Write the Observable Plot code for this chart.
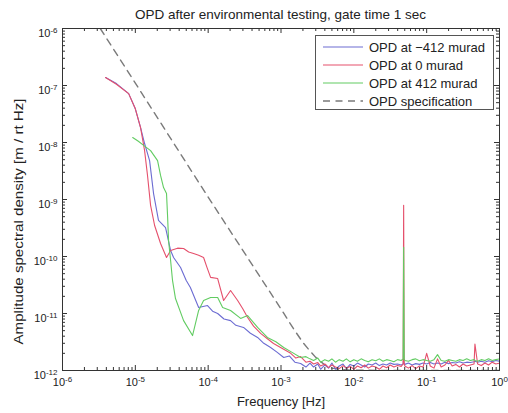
<!DOCTYPE html>
<html><head><meta charset="utf-8">
<script src="https://cdn.jsdelivr.net/npm/d3@7"></script>
<script src="https://cdn.jsdelivr.net/npm/@observablehq/plot@0.6"></script>
<style>
body{margin:0;background:#fff;font-family:"Liberation Sans",Arial,sans-serif;}
#wrap{position:relative;width:508px;height:413px;overflow:hidden;}
#title{height:24px;box-sizing:border-box;padding:6px 9px 0 62px;line-height:18px;font-size:13.5px;text-align:center;color:#222;}
#legend{position:absolute;left:315px;top:35px;width:179px;height:75px;box-sizing:border-box;border:1px solid #555;background:#fff;}
</style></head><body>
<div id="wrap"><div id="title">OPD after environmental testing, gate time 1 sec</div><div id="chart"></div><div id="legend"></div></div>
<script>
const titleText = "OPD after environmental testing, gate time 1 sec";
const xLabel = "Frequency [Hz]";
const yLabel = "Amplitude spectral density [m / rt Hz]";
const seriesNames = ["OPD at \u2212412 murad", "OPD at 0 murad", "OPD at 412 murad"];
const seriesColors = ["#6c6cd2", "#e5506c", "#62cc62"];
const specName = "OPD specification";
const xTicks = [1e-6, 1e-5, 1e-4, 1e-3, 1e-2, 1e-1, 1];
const yTicks = [1e-12, 1e-11, 1e-10, 1e-9, 1e-8, 1e-7, 1e-6];

// low-frequency part of each series (Hz, m/rtHz)
const blueLowFreq = [3.9e-6,5.5e-6,8.1e-6,1.0e-5,1.18e-5,1.34e-5,1.57e-5,1.78e-5,2.08e-5,2.6e-5,3.05e-5,3.35e-5,4.18e-5,5.0e-5,5.7e-5,7.4e-5,9.8e-5,1.15e-4,1.35e-4,1.65e-4,2.03e-4,2.4e-4,3.06e-4,3.8e-4,4.77e-4,5.8e-4,7.2e-4,8.8e-4,1.09e-3,1.3e-3,1.55e-3,1.86e-3,2.2e-3];
const blueLowVal = [1.38e-7,1.08e-7,7.2e-8,3.9e-8,1.83e-8,9.6e-9,4.8e-9,1.27e-9,4.3e-10,3.2e-10,1.27e-10,9.6e-11,6.4e-11,3.8e-11,2.86e-11,1.27e-11,1.38e-11,1.1e-11,1.0e-11,8.0e-12,7.5e-12,6.2e-12,5.7e-12,4.5e-12,3.8e-12,3.0e-12,2.53e-12,2.1e-12,1.69e-12,1.8e-12,1.4e-12,1.33e-12,1.15e-12];
const redLowFreq = [3.9e-6,5.5e-6,8.1e-6,1.0e-5,1.18e-5,1.34e-5,1.47e-5,1.62e-5,1.84e-5,2.22e-5,2.68e-5,3.05e-5,3.8e-5,4.6e-5,5.4e-5,6.3e-5,7.4e-5,8.65e-5,9.6e-5,1.08e-4,1.35e-4,1.63e-4,2.03e-4,2.54e-4,3.0e-4,3.48e-4,4.2e-4,5.25e-4,6.5e-4,7.9e-4,1.0e-3,1.36e-3,1.6e-3,1.86e-3,2.2e-3];
const redLowVal = [1.38e-7,1.05e-7,7.2e-8,3.9e-8,1.83e-8,7.2e-9,2.64e-9,7.9e-10,3.5e-10,1.69e-10,9.6e-11,1.27e-10,1.4e-10,1.38e-10,1.2e-10,1.13e-10,1.05e-10,9.6e-11,6.5e-11,4.3e-11,4.1e-11,1.69e-11,2.53e-11,1.69e-11,1.2e-11,8.5e-12,6.0e-12,4.47e-12,3.6e-12,2.98e-12,2.5e-12,2.0e-12,1.65e-12,1.76e-12,1.4e-12];
const greenLowFreq = [9.2e-6,1.1e-5,1.3e-5,1.62e-5,2.02e-5,2.22e-5,2.44e-5,2.68e-5,2.77e-5,2.86e-5,3.05e-5,3.24e-5,3.56e-5,4.6e-5,6.1e-5,7.4e-5,8.65e-5,1.08e-4,1.35e-4,1.58e-4,2.03e-4,2.79e-4,3.48e-4,4.77e-4,6.5e-4,8.5e-4,1.09e-3,1.4e-3,1.86e-3,2.2e-3];
const greenLowVal = [1.22e-8,1.05e-8,8.9e-9,7.2e-9,4.8e-9,2.64e-9,1.62e-9,1.27e-9,5.2e-10,1.9e-10,8.5e-11,3.8e-11,1.83e-11,7.5e-12,4.1e-12,1.13e-11,1.69e-11,1.91e-11,1.91e-11,1.27e-11,1.13e-11,8.2e-12,9.2e-12,5.7e-12,3.8e-12,3.2e-12,2.53e-12,2.1e-12,1.69e-12,1.75e-12];

// noise floor part (Hz) and values in units of 1e-12 m/rtHz
const floorFreq = [2.5e-3,2.8e-3,3.2e-3,3.5e-3,4.0e-3,4.5e-3,5.0e-3,5.6e-3,6.3e-3,7.1e-3,7.9e-3,8.9e-3,0.010,0.0112,0.0126,0.0141,0.0158,0.0178,0.020,0.0224,0.0251,0.0282,0.0316,0.0355,0.0398,0.0447,0.0475,0.0483,0.0491,0.0501,0.0562,0.0631,0.0708,0.0794,0.0891,0.100,0.112,0.126,0.141,0.158,0.178,0.200,0.224,0.251,0.282,0.316,0.355,0.398,0.447,0.460,0.501,0.562,0.631,0.708,0.794,0.891,1.0];
const blueFloor = [1.35,1.15,1.3,1.05,1.25,1.1,1.35,1.05,1.2,1.3,1.08,1.28,1.2,1.35,1.25,1.15,1.3,1.25,1.35,1.22,1.3,1.25,1.35,1.28,1.3,1.25,1.3,1.6,1.3,1.28,1.35,1.25,1.32,1.28,1.35,1.3,1.38,1.3,1.35,1.3,1.4,1.32,1.38,1.35,1.42,1.35,1.4,1.38,1.42,1.45,1.4,1.45,1.4,1.48,1.42,1.5,1.45];
const redFloor = [1.45,1.3,1.38,1.2,1.3,1.12,1.25,1.15,1.08,1.22,1.1,1.18,1.05,1.2,1.12,1.25,1.1,1.2,1.15,1.05,1.2,1.12,1.25,1.15,1.22,1.18,1.3,790,1.35,1.2,1.1,1.22,1.08,1.2,1.15,2.0,1.2,1.1,1.6,1.15,1.25,1.5,1.2,1.28,1.15,1.3,1.2,1.25,1.3,2.9,1.3,1.22,1.35,1.25,1.4,1.3,1.35];
const greenFloor = [1.6,1.5,1.65,1.4,1.55,1.45,1.6,1.4,1.55,1.45,1.6,1.42,1.55,1.45,1.6,1.5,1.42,1.55,1.48,1.6,1.45,1.55,1.5,1.42,1.55,1.5,1.6,145,1.6,1.5,1.45,1.55,1.6,1.48,1.55,1.5,1.45,1.55,1.9,1.5,1.45,1.55,1.5,1.45,1.55,1.5,1.6,1.5,1.55,1.5,1.45,1.55,1.5,1.6,1.5,1.55,1.6];

const specFreq = [3.3e-6,1e-5,1e-4,1e-3,1.5e-3,2e-3,2.5e-3,3e-3,4e-3,5e-3,7e-3,1e-2,1e-1,1];
const specVal = [1.0e-6,1.1e-7,1.1e-9,1.2e-11,5.3e-12,3.1e-12,2.2e-12,1.7e-12,1.25e-12,1.1e-12,1.03e-12,1.01e-12,1.0e-12,1.0e-12];

function build(name, lf, lv, fl) {
  const rows = lf.map((f, i) => ({series: name, f, v: lv[i]}));
  floorFreq.forEach((f, i) => rows.push({series: name, f, v: fl[i] * 1e-12}));
  return rows;
}
const blueData = build(seriesNames[0], blueLowFreq, blueLowVal, blueFloor);
const redData = build(seriesNames[1], redLowFreq, redLowVal, redFloor);
const greenData = build(seriesNames[2], greenLowFreq, greenLowVal, greenFloor);
const specData = specFreq.map((f, i) => ({f, v: specVal[i]}));

const W = 508, H = 389, mL = 62, mR = 9, mT = 4, mB = 43;
const iW = W - mL - mR, iH = H - mT - mB;
const xMinor = [], yMinor = [];
for (let e = -6; e < 0; e++) for (let k = 2; k <= 9; k++) xMinor.push(k * Math.pow(10, e));
for (let e = -12; e < -6; e++) for (let k = 2; k <= 9; k++) yMinor.push(k * Math.pow(10, e));
const expFmt = d => String(Math.round(Math.log10(d)));
const axisColor = "#333";

const plot = Plot.plot({
  width: W, height: H,
  marginLeft: mL, marginRight: mR, marginTop: mT, marginBottom: mB,
  style: {fontFamily: "'Liberation Sans', Arial, sans-serif", fontSize: "11px", color: "#222", background: "#fff"},
  x: {type: "log", domain: [1e-6, 1]},
  y: {type: "log", domain: [1e-12, 1e-6]},
  marks: [
    Plot.line(specData, {x: "f", y: "v", stroke: "#7a7a7a", strokeWidth: 1.4, strokeDasharray: "7,5.5", clip: true}),
    Plot.line(blueData, {x: "f", y: "v", stroke: seriesColors[0], strokeWidth: 1.1, clip: true}),
    Plot.line(redData, {x: "f", y: "v", stroke: seriesColors[1], strokeWidth: 1.1, clip: true}),
    Plot.line(greenData, {x: "f", y: "v", stroke: seriesColors[2], strokeWidth: 1.1, clip: true}),
    Plot.tickX(xTicks, {x: d => d, stroke: axisColor, insetTop: iH - 5}),
    Plot.tickX(xTicks, {x: d => d, stroke: axisColor, insetBottom: iH - 5}),
    Plot.tickX(xMinor, {x: d => d, stroke: axisColor, insetTop: iH - 3}),
    Plot.tickX(xMinor, {x: d => d, stroke: axisColor, insetBottom: iH - 3}),
    Plot.tickY(yTicks, {y: d => d, stroke: axisColor, insetRight: iW - 5}),
    Plot.tickY(yTicks, {y: d => d, stroke: axisColor, insetLeft: iW - 5}),
    Plot.tickY(yMinor, {y: d => d, stroke: axisColor, insetRight: iW - 3}),
    Plot.tickY(yMinor, {y: d => d, stroke: axisColor, insetLeft: iW - 3}),
    Plot.axisX({ticks: xTicks, tickSize: 0, tickPadding: 8, tickFormat: expFmt, label: null}),
    Plot.axisY({ticks: yTicks, tickSize: 0, tickPadding: 5, tickFormat: expFmt, label: null}),
    Plot.text([xLabel], {frameAnchor: "bottom", text: d => d, dy: 31, lineAnchor: "middle", textAnchor: "middle", fontSize: 13, fill: "#222"}),
    Plot.text([yLabel], {frameAnchor: "left", text: d => d, dx: -44, dy: 22, rotate: -90, lineAnchor: "middle", textAnchor: "middle", fontSize: 13, fill: "#222"}),
    Plot.frame({stroke: axisColor, strokeWidth: 1})
  ]
});
document.getElementById("chart").appendChild(plot);

// superscript exponents on tick labels
d3.select(plot).selectAll('g[aria-label="x-axis tick label"] text, g[aria-label="y-axis tick label"] text').each(function() {
  const t = d3.select(this);
  const e = t.text();
  t.text(null);
  t.append("tspan").text("10");
  t.append("tspan").attr("dy", "-0.5em").attr("font-size", "8px").text(e);
});
d3.select(plot).selectAll('g[aria-label="y-axis tick label"] text').attr("dy", "0.45em");
// the reference's y label is drawn longer along its axis
d3.select(plot).selectAll("text").filter(function() { return this.textContent === yLabel; })
  .attr("textLength", 246).attr("lengthAdjust", "spacingAndGlyphs");

// legend
const lg = d3.select("#legend").append("svg").attr("width", 177).attr("height", 73)
  .style("font-family", "'Liberation Sans', Arial, sans-serif").style("font-size", "13px");
const entries = seriesNames.map((n, i) => ({n, c: seriesColors[i], dash: null}))
  .concat([{n: specName, c: "#7a7a7a", dash: "7,5.5"}]);
entries.forEach((d, i) => {
  const y = 11 + i * 18;
  lg.append("line").attr("x1", 7).attr("x2", 47).attr("y1", y).attr("y2", y)
    .attr("stroke", d.c).attr("stroke-width", d.dash ? 1.4 : 1.1).attr("stroke-dasharray", d.dash);
  lg.append("text").attr("x", 53).attr("y", y).attr("dy", "0.35em").attr("fill", "#222").text(d.n);
});
</script>
</body></html>
